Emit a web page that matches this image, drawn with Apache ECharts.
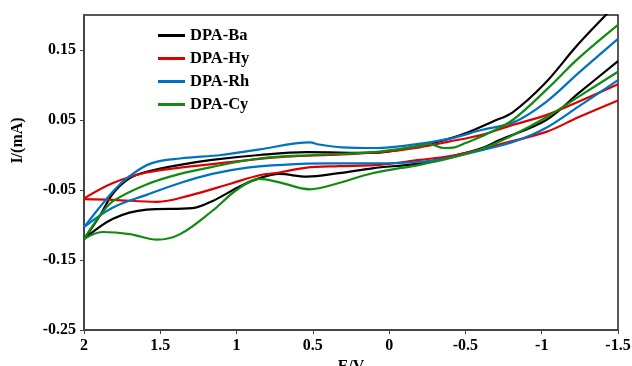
<!DOCTYPE html>
<html>
<head>
<meta charset="utf-8">
<script src="https://cdn.jsdelivr.net/npm/echarts@6/dist/echarts.min.js"></script>
<style>
  * { margin: 0; padding: 0; }
  #chart-container { width: 632px; height: 366px; background: #fff; }
</style>
</head>
<body>
<div id="chart-container"></div>
<script>
  // potential (V) vs current (mA), each loop split into its two sweeps
  var names = ['DPA-Ba', 'DPA-Hy', 'DPA-Rh', 'DPA-Cy']
  var colors = ['#000000', '#dd0000', '#0070c0', '#108a10']

  var baUpper = [[2, -0.12], [1.9, -0.088], [1.81, -0.055], [1.7, -0.033], [1.59, -0.024], [1.37, -0.014], [1.16, -0.007], [0.85, 0.0], [0.54, 0.004], [0.11, 0.003], [-0.2, 0.013], [-0.39, 0.023], [-0.5, 0.031], [-0.68, 0.048], [-0.81, 0.061], [-1.02, 0.102], [-1.23, 0.156], [-1.42, 0.2], [-1.5, 0.218]]
  var baLower = [[2, -0.12], [1.81, -0.091], [1.59, -0.078], [1.29, -0.076], [1.16, -0.066], [0.98, -0.045], [0.85, -0.033], [0.72, -0.027], [0.54, -0.031], [0.33, -0.026], [0.11, -0.019], [-0.2, -0.012], [-0.39, -0.003], [-0.61, 0.01], [-0.72, 0.021], [-1.03, 0.05], [-1.24, 0.088], [-1.5, 0.134]]

  var hyUpper = [[2, -0.062], [1.81, -0.04], [1.59, -0.025], [1.37, -0.018], [1.04, -0.01], [0.72, -0.003], [0.4, 0.0], [0.06, 0.004], [-0.2, 0.011], [-0.39, 0.019], [-0.61, 0.029], [-0.81, 0.043], [-1.03, 0.057], [-1.24, 0.076], [-1.5, 0.101]]
  var hyLower = [[2, -0.063], [1.81, -0.064], [1.52, -0.067], [1.31, -0.058], [1.04, -0.041], [0.85, -0.029], [0.72, -0.025], [0.54, -0.018], [0.33, -0.016], [0.06, -0.014], [-0.2, -0.007], [-0.39, -0.002], [-0.61, 0.008], [-0.72, 0.015], [-1.03, 0.033], [-1.24, 0.054], [-1.5, 0.078]]

  var rhUpper = [[2, -0.103], [1.81, -0.052], [1.7, -0.03], [1.56, -0.012], [1.37, -0.005], [1.1, 0.0], [0.85, 0.008], [0.52, 0.018], [0.46, 0.015], [0.31, 0.011], [0.08, 0.01], [-0.13, 0.014], [-0.39, 0.023], [-0.61, 0.036], [-0.82, 0.047], [-1.03, 0.076], [-1.24, 0.117], [-1.5, 0.166]]
  var rhLower = [[2, -0.103], [1.81, -0.075], [1.59, -0.057], [1.37, -0.04], [1.16, -0.027], [0.93, -0.018], [0.7, -0.014], [0.4, -0.012], [0.1, -0.012], [-0.2, -0.01], [-0.39, -0.004], [-0.61, 0.007], [-0.83, 0.02], [-1.03, 0.039], [-1.24, 0.069], [-1.5, 0.107]]

  var cyUpper = [[2, -0.12], [1.9, -0.088], [1.81, -0.066], [1.59, -0.042], [1.37, -0.027], [1.16, -0.017], [0.85, -0.005], [0.5, 0.0], [0.11, 0.004], [-0.2, 0.013], [-0.26, 0.016], [-0.36, 0.01], [-0.43, 0.011], [-0.5, 0.017], [-0.64, 0.03], [-0.81, 0.05], [-1.03, 0.093], [-1.24, 0.138], [-1.5, 0.186]]
  var cyLower = [[2, -0.12], [1.88, -0.11], [1.7, -0.113], [1.52, -0.121], [1.37, -0.113], [1.16, -0.08], [1.0, -0.05], [0.85, -0.034], [0.72, -0.039], [0.52, -0.049], [0.33, -0.04], [0.11, -0.026], [-0.2, -0.014], [-0.39, -0.005], [-0.61, 0.009], [-0.79, 0.026], [-1.03, 0.054], [-1.24, 0.083], [-1.5, 0.119]]

  var sweeps = [[baUpper, baLower], [hyUpper, hyLower], [rhUpper, rhLower], [cyUpper, cyLower]]
  var yTicks = [-0.25, -0.15, -0.05, 0.05, 0.15]

  var font = 'Liberation Serif'
  var series = []
  sweeps.forEach(function (pair, i) {
    pair.forEach(function (d) {
      series.push({
        name: names[i],
        type: 'line',
        data: d,
        smooth: 0.35,
        showSymbol: false,
        clip: true,
        lineStyle: { color: colors[i], width: 2.2 },
        itemStyle: { color: colors[i] },
      })
    })
  })

  var myChart = echarts.init(document.getElementById('chart-container'), null, { renderer: 'canvas' })
  var option = {
    animation: false,
    legend: {
      data: names,
      orient: 'vertical',
      left: 153,
      top: 22,
      itemWidth: 27,
      itemHeight: 3,
      itemGap: 6,
      icon: 'rect',
      textStyle: { fontFamily: font, fontWeight: 'bold', fontSize: 16.5, color: '#000' },
    },
    grid: {
      left: 84,
      right: 14,
      top: 15,
      bottom: 36,
      outerBoundsMode: 'none',
      show: true,
      borderColor: '#222',
      borderWidth: 1.5,
    },
    xAxis: {
      type: 'value',
      inverse: true,
      min: -1.5,
      max: 2,
      interval: 0.5,
      name: 'E/V',
      nameLocation: 'middle',
      nameGap: 26,
      nameTextStyle: { fontFamily: font, fontWeight: 'bold', fontSize: 16, color: '#000' },
      axisLine: { onZero: false, lineStyle: { color: '#444', width: 2 } },
      axisTick: { show: true, length: 4, lineStyle: { color: '#444' } },
      axisLabel: { fontFamily: font, fontWeight: 'bold', fontSize: 16, color: '#000', margin: 8 },
      splitLine: { show: false },
    },
    yAxis: {
      type: 'value',
      min: -0.25,
      max: 0.2,
      name: 'I/(mA)',
      nameLocation: 'middle',
      nameGap: 58,
      nameTextStyle: { fontFamily: font, fontWeight: 'bold', fontSize: 16, color: '#000', padding: [0, 0, 0, 64] },
      axisLine: { show: true, onZero: false, lineStyle: { color: '#444', width: 2 } },
      axisTick: { show: true, length: 4, customValues: yTicks, lineStyle: { color: '#444' } },
      axisLabel: { customValues: yTicks, fontFamily: font, fontWeight: 'bold', fontSize: 16, color: '#000', margin: 8 },
      splitLine: { show: false },
    },
    series: series,
  }
  myChart.setOption(option)
  window.addEventListener('resize', myChart.resize)
</script>
</body>
</html>
